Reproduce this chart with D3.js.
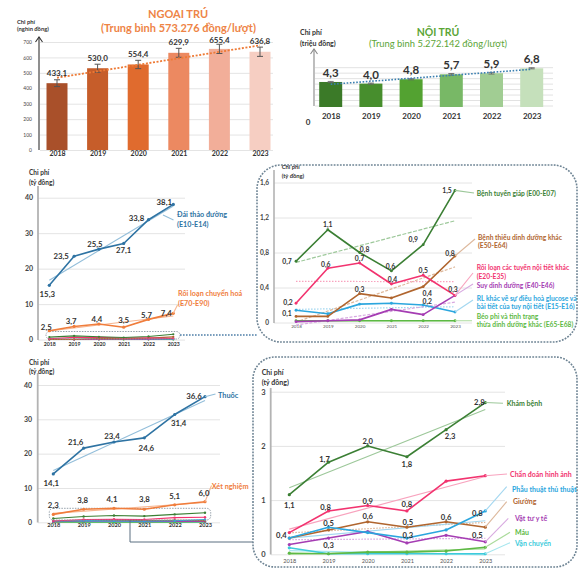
<!DOCTYPE html>
<html>
<head>
<meta charset="utf-8">
<script src="https://cdn.jsdelivr.net/npm/d3@7"></script>
<style>
  html, body { margin: 0; padding: 0; background: #fff; }
  svg { display: block; font-family: Lato, "Open Sans", "DejaVu Sans", sans-serif; }
</style>
</head>
<body>
<svg id="chart" width="579" height="568"></svg>
<script>
// ---------- data ----------
const years = ["2018", "2019", "2020", "2021", "2022", "2023"];

// Outpatient / inpatient cost per visit
const outpatientCost = [433.1, 530.0, 554.4, 629.9, 655.4, 636.8];
const outpatientErr  = [22, 26, 27, 29, 30, 30];
const inpatientCost  = [4.3, 4.0, 4.8, 5.7, 5.9, 6.8];
const inpatientErr   = [0.1, 0.1, 0.1, 0.15, 0.15, 0.1];

// Cost by disease group (billion VND)
const diabetes          = [15.3, 23.5, 25.5, 27.1, 33.8, 38.1];
const metabolic         = [2.5, 3.7, 4.4, 3.5, 5.7, 7.4];
const thyroid           = [0.7, 1.06, 0.8, 0.59, 0.89, 1.51];
const malnutritionOther = [0.07, 0.07, 0.33, 0.28, 0.41, 0.76];
const endocrineOther    = [0.22, 0.62, 0.68, 0.44, 0.54, 0.31];
const malnutrition      = [0.01, 0.02, 0.03, 0.15, 0.09, 0.31];
const glucoseRegulation = [0.14, 0.1, 0.21, 0.22, 0.2, 0.12];
const obesity           = [0.02, 0.02, 0.02, 0.02, 0.02, 0.02];

// Cost by service type (billion VND)
const drugs       = [14.1, 21.6, 23.4, 24.6, 31.4, 36.6];
const labTests    = [2.3, 3.8, 4.1, 3.8, 5.1, 6.0];
const examination = [1.1, 1.7, 2.0, 1.8, 2.3, 2.8];
const imaging     = [0.4, 0.8, 0.9, 0.8, 1.35, 1.45];
const surgery     = [0.3, 0.5, 0.4, 0.3, 0.45, 0.8];
const bed         = [0.3, 0.45, 0.6, 0.5, 0.6, 0.5];
const supplies    = [0.18, 0.3, 0.42, 0.21, 0.35, 0.23];
const blood       = [0.02, 0.01, 0.04, 0.04, 0.06, 0.13];
const transport   = [0.12, 0.01, 0.01, 0.01, 0.01, 0.01];

// ---------- helpers ----------
const vi = d3.formatLocale({ decimal: ",", thousands: ".", grouping: [3], currency: ["", "đ"] });
const f1 = vi.format(".1f");
const svg = d3.select("#chart");
const FONT = 'Lato, "Open Sans", "DejaVu Sans", sans-serif';

// least-squares line through the six yearly values, returned as [start, end]
function trend(vals) {
  const n = vals.length, mx = (n - 1) / 2, my = d3.mean(vals);
  let sxy = 0, sxx = 0;
  vals.forEach((v, i) => { sxy += (i - mx) * (v - my); sxx += (i - mx) * (i - mx); });
  const b = sxy / sxx, a = my - b * mx;
  return [a, a + b * (n - 1)];
}

function yGrid(g, y, x0, x1, ticks, fmt, opt) {
  const ax = g.append("g").attr("transform", `translate(${x0},0)`)
    .call(d3.axisLeft(y).tickValues(ticks).tickSize(-(x1 - x0)).tickPadding(opt.pad).tickFormat(fmt));
  ax.select(".domain").remove();
  ax.selectAll(".tick line").attr("stroke", opt.grid || "#e4e4e4").attr("stroke-width", 1);
  ax.selectAll(".tick text").attr("font-family", FONT).attr("font-size", opt.size)
    .attr("fill", opt.color || "#444").attr("font-weight", opt.weight || "normal");
  return ax;
}

function xYears(g, x, yTop, opt) {
  const ax = g.append("g").attr("transform", `translate(0,${yTop})`)
    .call(d3.axisBottom(x).tickSize(0).tickPadding(0));
  ax.select(".domain").remove();
  ax.selectAll(".tick text").attr("font-family", FONT).attr("font-size", opt.size)
    .attr("font-weight", opt.weight || "bold").attr("fill", opt.color || "#333");
  return ax;
}

function axisTitle(g, x, y, lines, size, lead) {
  const t = g.append("text").attr("x", x).attr("y", y).attr("font-size", size)
    .attr("font-weight", "bold").attr("fill", "#333").attr("dominant-baseline", "central");
  lines.forEach((ln, k) => t.append("tspan").attr("x", x).attr("dy", k ? lead : 0).text(ln));
}

function vAxis(g, xPos, y0, y1, color, width, arrow) {
  g.append("line").attr("x1", xPos).attr("x2", xPos).attr("y1", y0).attr("y2", y1)
    .attr("stroke", color).attr("stroke-width", width);
  if (arrow) {
    g.append("polyline").attr("points", `${xPos - 3.5},${y1 + 5} ${xPos},${y1} ${xPos + 3.5},${y1 + 5}`)
      .attr("fill", "none").attr("stroke", color).attr("stroke-width", width);
  }
}

function drawLines(g, x, y, series, opt) {
  const line = d3.line().x((d, i) => x(years[i])).y(d => y(d));
  const last = years.length - 1;
  if (opt.trends) series.forEach(s => {
    if (!s.trendColor) return;
    const [a, b] = trend(s.values);
    g.append("line").attr("x1", x(years[0])).attr("x2", x(years[last]))
      .attr("y1", y(a)).attr("y2", y(b)).attr("stroke", s.trendColor)
      .attr("stroke-width", opt.trendW || 1.3).attr("stroke-dasharray", s.dash || null);
  });
  series.forEach(s => {
    g.append("path").datum(s.values).attr("d", line).attr("fill", "none")
      .attr("stroke", s.color).attr("stroke-width", opt.w || 1.5).attr("stroke-linejoin", "round");
    g.append("g").selectAll("circle").data(s.values).join("circle")
      .attr("cx", (d, i) => x(years[i])).attr("cy", d => y(d)).attr("r", opt.r || 1.6).attr("fill", s.color);
  });
  if (opt.names) series.forEach(s => {
    if (s.leader) {
      g.append("line").attr("x1", x(years[last])).attr("y1", y(s.values[last]))
        .attr("x2", s.leader[0]).attr("y2", s.leader[1])
        .attr("stroke", s.trendColor || s.color).attr("stroke-width", 1.1);
    }
    if (s.name) {
      const t = g.append("text").attr("x", s.nameAt[0]).attr("y", s.nameAt[1])
        .attr("fill", s.color).attr("font-size", opt.nameSize).attr("font-weight", "bold")
        .attr("dominant-baseline", "central");
      s.name.forEach((ln, k) => t.append("tspan").attr("x", s.nameAt[0]).attr("dy", k ? opt.nameLead : 0).text(ln));
    }
  });
  if (opt.labels) series.forEach(s => (s.labels || []).forEach(([i, dx, dy]) => {
    g.append("text").attr("x", x(years[i]) + dx).attr("y", y(s.values[i]) + dy)
      .attr("text-anchor", "middle").attr("dominant-baseline", "central")
      .attr("font-size", opt.labelSize).attr("font-weight", "bold").attr("fill", "#333")
      .text(f1(s.values[i]));
  }));
}

function roundedBox(g, x, y, w, h, r, color, width, dash) {
  g.append("rect").attr("x", x).attr("y", y).attr("width", w).attr("height", h)
    .attr("rx", r).attr("ry", r).attr("fill", "none").attr("stroke", color)
    .attr("stroke-width", width).attr("stroke-dasharray", dash);
}

// ---------- series styling ----------
const C = {
  green: "#3B7F34", greenT: "#9DC89A",
  pink: "#F2336F", pinkT: "#F8A3BE",
  brown: "#B0652E", brownT: "#DDB89C",
  purple: "#A53DB3", purpleT: "#D8A9E0",
  sky: "#2BA6DE", skyT: "#A3D7F0",
  lime: "#5DB944", limeT: "#ABDB9C",
  teal: "#3ECBDB", tealT: "#A5E6EE",
  blue: "#2E73A3", blueT: "#93BEDA",
  orange: "#F07D3C", orangeT: "#F7B58F"
};

// ======== Panel 1: outpatient bars ========
{
  const g = svg.append("g");
  const x = d3.scalePoint().domain(years).range([57, 260]);
  const y = d3.scaleLinear().domain([0, 700]).range([150, 42]);
  const colors = ["#A9502A", "#C65D2A", "#E06B2E", "#EC8961", "#F2AE99", "#F6CEC2"];
  const bw = 21;

  yGrid(g, y, 40, 273, d3.range(0, 701, 100), d => d, { pad: 8, size: 5, color: "#444" });

  g.selectAll("rect.bar").data(outpatientCost).join("rect")
    .attr("x", (d, i) => x(years[i]) - bw / 2).attr("y", d => y(d))
    .attr("width", bw).attr("height", d => y(0) - y(d)).attr("fill", (d, i) => colors[i]);

  // error bars
  const eb = g.append("g").attr("stroke", "#555").attr("stroke-width", 1);
  outpatientCost.forEach((v, i) => {
    const cx = x(years[i]), e = outpatientErr[i];
    eb.append("line").attr("x1", cx).attr("x2", cx).attr("y1", y(v - e)).attr("y2", y(v + e));
    eb.append("line").attr("x1", cx - 3).attr("x2", cx + 3).attr("y1", y(v - e)).attr("y2", y(v - e));
    eb.append("line").attr("x1", cx - 3).attr("x2", cx + 3).attr("y1", y(v + e)).attr("y2", y(v + e));
  });

  // trend
  const [a, b] = trend(outpatientCost);
  g.append("line").attr("x1", x(years[0])).attr("x2", x(years[5])).attr("y1", y(a)).attr("y2", y(b))
    .attr("stroke", "#EE7A35").attr("stroke-width", 1.8).attr("stroke-dasharray", "2,1.6");

  g.selectAll("text.val").data(outpatientCost).join("text")
    .attr("x", (d, i) => x(years[i])).attr("y", d => Math.max(y(d) - 10.5, 40))
    .attr("text-anchor", "middle").attr("dominant-baseline", "central")
    .attr("font-size", 8).attr("font-weight", "bold").attr("fill", "#333")
    .text(d => f1(d));

  vAxis(g, 39, 150, 37, "#333", 1.1, true);
  xYears(g, x, 151, { size: 7 });
  axisTitle(g, 17, 20.5, ["Chi phí", "(nghìn đồng)"], 5.8, 7.8);

  g.append("text").attr("x", 178).attr("y", 13.5).attr("text-anchor", "middle")
    .attr("dominant-baseline", "central").attr("font-size", 11).attr("font-weight", "bold")
    .attr("fill", "#EE8446").text("NGOẠI TRÚ");
  g.append("text").attr("x", 178.5).attr("y", 27.5).attr("text-anchor", "middle")
    .attr("dominant-baseline", "central").attr("font-size", 11).attr("font-weight", "bold")
    .attr("fill", "#EE8446").text("(Trung bình 573.276 đồng/lượt)");
}

// ======== Panel 2: inpatient bars ========
{
  const g = svg.append("g");
  const x = d3.scalePoint().domain(years).range([330.7, 531.7]);
  const y = d3.scaleLinear().domain([0, 7]).range([105.5, 67.2]);
  const colors = ["#3B7A28", "#478E2D", "#53A231", "#78B866", "#A1CD93", "#C5E0BB"];
  const bw = 23;

  yGrid(g, y, 315, 553, d3.range(0, 8), () => "", { pad: 0, size: 1, grid: "#e2e2e2" });

  g.selectAll("rect.bar").data(inpatientCost).join("rect")
    .attr("x", (d, i) => x(years[i]) - bw / 2).attr("y", d => y(d))
    .attr("width", bw).attr("height", d => y(0) - y(d) + 1.5).attr("fill", (d, i) => colors[i]);

  const eb = g.append("g").attr("stroke", "#666").attr("stroke-width", 0.9);
  inpatientCost.forEach((v, i) => {
    const cx = x(years[i]), e = inpatientErr[i];
    eb.append("line").attr("x1", cx).attr("x2", cx).attr("y1", y(v - e)).attr("y2", y(v + e));
    eb.append("line").attr("x1", cx - 3).attr("x2", cx + 3).attr("y1", y(v - e)).attr("y2", y(v - e));
    eb.append("line").attr("x1", cx - 3).attr("x2", cx + 3).attr("y1", y(v + e)).attr("y2", y(v + e));
  });

  const [a, b] = trend(inpatientCost);
  g.append("line").attr("x1", x(years[0])).attr("x2", x(years[5])).attr("y1", y(a)).attr("y2", y(b))
    .attr("stroke", "#3A7FB0").attr("stroke-width", 1.6).attr("stroke-dasharray", "1.6,1.6");

  g.selectAll("text.val").data(inpatientCost).join("text")
    .attr("x", (d, i) => x(years[i])).attr("y", d => y(d) - 9.5)
    .attr("text-anchor", "middle").attr("dominant-baseline", "central")
    .attr("font-size", 11.5).attr("font-weight", "bold").attr("fill", "#333")
    .text(d => f1(d));

  vAxis(g, 314, 106, 49, "#888", 1.1, true);
  xYears(g, x, 113, { size: 8 });
  g.append("text").attr("x", 308).attr("y", 121.5).attr("text-anchor", "middle")
    .attr("dominant-baseline", "central").attr("font-size", 8).attr("font-weight", "bold")
    .attr("fill", "#333").text("0");
  axisTitle(g, 300, 32, ["Chi phí", "(triệu đồng)"], 7, 11);

  g.append("text").attr("x", 438).attr("y", 31.5).attr("text-anchor", "middle")
    .attr("dominant-baseline", "central").attr("font-size", 10.5).attr("font-weight", "bold")
    .attr("fill", "#5BA536").text("NỘI TRÚ");
  g.append("text").attr("x", 438).attr("y", 43.5).attr("text-anchor", "middle")
    .attr("dominant-baseline", "central").attr("font-size", 9.4).attr("fill", "#5BA536")
    .text("(Trung bình 5.272.142 đồng/lượt)");
}

// ---------- endocrine groups (panels 3 & 4) ----------
const endoSmall = [
  { values: obesity, color: C.lime, trendColor: C.limeT,
    name: ["Béo phì và tình trạng", "thừa dinh dưỡng khác (E65-E68)"], nameAt: [476.7, 315.5], leader: [472, 320.8] },
  { values: glucoseRegulation, color: C.sky, trendColor: C.skyT, dash: "1.6,1.4",
    name: ["RL khác về sự điều hoà glucose và", "bài tiết của tuy nội tiết (E15-E16)"], nameAt: [476.7, 297.5], leader: [473, 300],
    labels: [[4, 4, -4]] },
  { values: malnutrition, color: C.purple, trendColor: C.purpleT, dash: "3,1.5",
    name: ["Suy dinh dưỡng (E40-E46)"], nameAt: [476.7, 285.3], leader: [473, 284] },
  { values: malnutritionOther, color: C.brown, trendColor: C.brownT, dash: "3,1.5",
    name: ["Bệnh thiếu dinh dưỡng khác", "(E50-E64)"], nameAt: [478, 236.7], leader: [475, 239],
    labels: [[0, -9, -3], [2, 0, -5], [4, 4, 6], [5, -5, -3]] },
  { values: endocrineOther, color: C.pink, trendColor: C.pinkT, dash: "1.5,1.5",
    name: ["Rối loạn các tuyến nội tiết khác", "(E20-E35)"], nameAt: [476.7, 267.3], leader: [473, 273],
    labels: [[0, -8, -1], [1, -2, -4], [2, 0, -5], [3, 1, -5], [4, 0, -5], [5, -2, -6]] },
  { values: thyroid, color: C.green, trendColor: C.greenT, dash: "4,1.5",
    name: ["Bệnh tuyến giáp (E00-E07)"], nameAt: [476.7, 192.7], leader: [474, 193],
    labels: [[0, -9, 0], [1, 0, -6], [2, 5, -4], [3, -1, -5], [4, -10, -6], [5, -8, 0]] }
];

// ======== Panel 3: diabetes & metabolic disorders ========
{
  const g = svg.append("g");
  const x = d3.scalePoint().domain(years).range([49.3, 173.3]);
  const y = d3.scaleLinear().domain([0, 40]).range([339.6, 197.7]);

  yGrid(g, y, 38, 185, [0, 10, 20, 30, 40], d => d, { pad: 5, size: 7, weight: "bold", color: "#444" });
  vAxis(g, 38, 340, 186, "#b3b3b3", 1.8, false);
  xYears(g, x, 342.5, { size: 5.2 });
  axisTitle(g, 29, 172, ["Chi phí", "(tỷ đồng)"], 6.5, 10);

  drawLines(g, x, y, endoSmall, { w: 1.1, r: 1.1 });
  roundedBox(g, 46, 331.5, 134, 7.5, 3.5, "#8a96a0", 0.9, "1.5,1.2");

  const main = [
    { values: metabolic, color: C.orange, trendColor: C.orangeT,
      name: ["Rối loạn chuyển hoá", "(E70-E90)"], nameAt: [178, 292.5], leader: [177.5, 305],
      labels: [[0, -3, -4], [1, -3, -5], [2, -2, -5], [3, 0, -7], [4, -2, -4], [5, -7, 0]] },
    { values: diabetes, color: C.blue, trendColor: C.blueT,
      name: ["Đái thảo đường", "(E10-E14)"], nameAt: [177, 214],
      labels: [[0, -2, 9], [1, -13, 0], [2, -4, -5], [3, 0, 7], [4, -12, -2], [5, -9, -2]] }
  ];
  drawLines(g, x, y, main, { trends: true, names: true, labels: true, w: 1.6, r: 1.6, trendW: 1.1,
    nameSize: 7.2, nameLead: 10, labelSize: 7.8 });
  g.append("line").attr("x1", 163).attr("y1", 215).attr("x2", 173.5).attr("y2", 220)
    .attr("stroke", C.blueT).attr("stroke-width", 1.1);

  // link to the detailed endocrine panel
  g.append("line").attr("x1", 180).attr("x2", 257).attr("y1", 335).attr("y2", 335)
    .attr("stroke", "#4F7FA8").attr("stroke-width", 1.4).attr("stroke-dasharray", "1.6,1.4");
}

// ======== Panel 4: smaller endocrine groups ========
{
  const g = svg.append("g");
  roundedBox(g, 257, 165, 320, 177, 24, "#6E8494", 1.6, "1.8,1.3");
  const x = d3.scalePoint().domain(years).range([296, 455]);
  const y = d3.scaleLinear().domain([0, 1.6]).range([322.5, 182.5]);

  yGrid(g, y, 274, 472, [0, 0.4, 0.8, 1.2, 1.6], d => (d === 0 ? "0" : f1(d)),
    { pad: 5, size: 6.5, weight: "bold", color: "#444" });
  vAxis(g, 274, 323, 170, "#b3b3b3", 1.6, false);
  xYears(g, x, 324.5, { size: 4.6, weight: "normal", color: "#555" });
  axisTitle(g, 281.7, 165.5, ["Chi phí", "(tỷ đồng)"], 5.8, 9.5);

  drawLines(g, x, y, endoSmall, { trends: true, names: true, labels: true, w: 1.6, r: 1.4, trendW: 1.2,
    nameSize: 6.7, nameLead: 8.5, labelSize: 6.8 });
}

// ---------- service types (panels 5 & 6) ----------
const serviceSmall = [
  { values: transport, color: C.teal, trendColor: C.tealT,
    name: ["Vận chuyển"], nameAt: [515, 543], leader: [510, 542.7] },
  { values: blood, color: C.lime, trendColor: C.limeT,
    name: ["Máu"], nameAt: [515, 532], leader: [510, 532.3] },
  { values: supplies, color: C.purple, trendColor: C.purpleT, dash: "1.6,1.4",
    name: ["Vật tư y tế"], nameAt: [515, 518], leader: [508.3, 518.3],
    labels: [[1, 0, 7]] },
  { values: bed, color: C.brown, trendColor: C.brownT, dash: "1.6,1.4",
    name: ["Giường"], nameAt: [513, 501], leader: [506.7, 501.7],
    labels: [[2, 0, -6], [3, 1, -5], [4, 0, -5], [5, -8, 8]] },
  { values: surgery, color: C.sky, trendColor: C.skyT,
    name: ["Phẫu thuật thủ thuật"], nameAt: [512, 489], leader: [506.7, 486.7],
    labels: [[1, 0, -4], [3, 1, -3], [5, -8, 2]] },
  { values: imaging, color: C.pink, trendColor: C.pinkT,
    name: ["Chẩn đoán hình ảnh"], nameAt: [510, 474], leader: [507, 474],
    labels: [[0, -8, 2], [1, -3, -4], [2, 0, -5], [3, 0, -7]] },
  { values: examination, color: C.green, trendColor: C.greenT,
    name: ["Khám bệnh"], nameAt: [506.7, 403.3], leader: [503, 403.3],
    labels: [[0, 0, 10], [1, -4, -3], [2, 0, -5], [3, 0, 7], [4, 4, 6], [5, -6, -1]] }
];

// ======== Panel 5: drugs & lab tests ========
{
  const g = svg.append("g");
  const x = d3.scalePoint().domain(years).range([53.3, 205]);
  const y = d3.scaleLinear().domain([0, 40]).range([522.3, 385]);

  yGrid(g, y, 38, 220, [0, 10, 20, 30, 40], d => d, { pad: 6, size: 7, weight: "bold", color: "#444" });
  vAxis(g, 37.7, 522.5, 373, "#b3b3b3", 1.8, false);
  xYears(g, x, 523, { size: 5.6 });
  axisTitle(g, 29, 361.7, ["Chi phí", "(tỷ đồng)"], 6.5, 9.5);

  drawLines(g, x, y, serviceSmall, { w: 1.1, r: 1.2 });
  roundedBox(g, 49.3, 508.3, 161.4, 11.7, 4, "#8a96a0", 0.9, "1.5,1.2");

  const main = [
    { values: labTests, color: C.orange, trendColor: C.orangeT,
      name: ["Xét nghiệm"], nameAt: [211.7, 485.5], leader: [211.5, 485.5],
      labels: [[0, 0, -9], [1, -1, -9], [2, -2, -9], [3, 0, -10], [4, 0, -9], [5, -1, -9]] },
    { values: drugs, color: C.blue, trendColor: C.blueT,
      name: ["Thuốc"], nameAt: [218, 394.5], leader: [215.5, 394],
      labels: [[0, -2, 9], [1, -8, -6], [2, -2, -6], [3, 2, 10], [4, 4, 8], [5, -11, -1]] }
  ];
  drawLines(g, x, y, main, { trends: true, names: true, labels: true, w: 1.6, r: 1.6, trendW: 1.1,
    nameSize: 7.3, nameLead: 10, labelSize: 7.8 });

  // link to the detailed service panel
  g.append("polyline").attr("points", "130,520 130,542 253,542")
    .attr("fill", "none").attr("stroke", "#5B6F80").attr("stroke-width", 1);
}

// ======== Panel 6: smaller service types ========
{
  const g = svg.append("g");
  roundedBox(g, 253, 357, 324, 210, 22, "#6E8494", 1.6, "1.8,1.3");
  const x = d3.scalePoint().domain(years).range([289.3, 485.3]);
  const y = d3.scaleLinear().domain([0, 3]).range([554.3, 391.7]);

  yGrid(g, y, 271, 505, [0, 1, 2, 3], d => d, { pad: 5.5, size: 7.5, weight: "bold", color: "#444" });
  vAxis(g, 270.7, 554.5, 388, "#b3b3b3", 1.8, false);
  xYears(g, x, 559.5, { size: 5.6, weight: "normal", color: "#555" });
  axisTitle(g, 261.7, 371.7, ["Chi phí", "(tỷ đồng)"], 7, 10);

  drawLines(g, x, y, serviceSmall, { trends: true, names: true, labels: true, w: 1.6, r: 1.6, trendW: 1.2,
    nameSize: 7, nameLead: 10, labelSize: 7.6 });
}
</script>
</body>
</html>
